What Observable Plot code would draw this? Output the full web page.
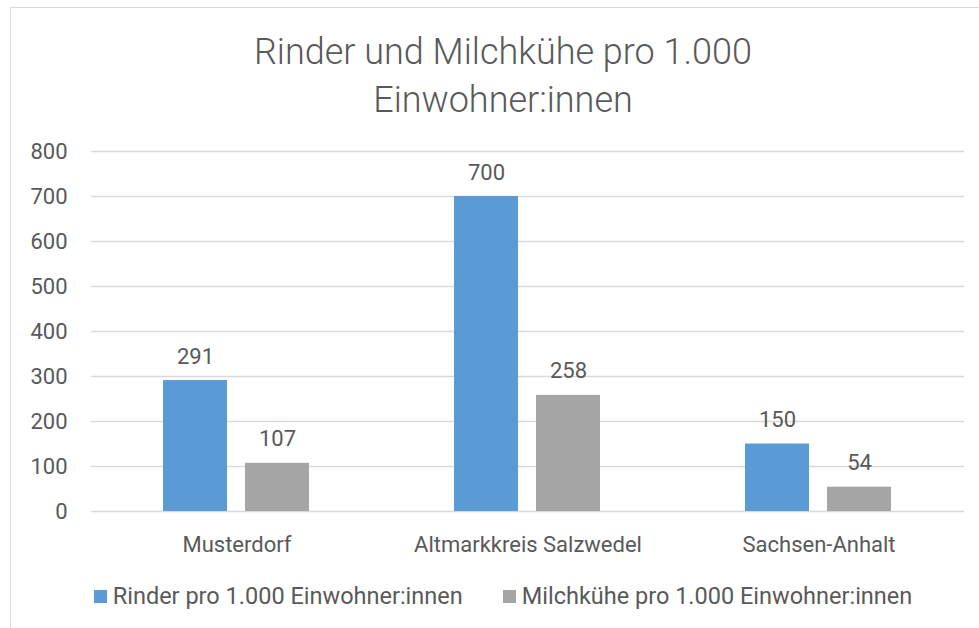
<!DOCTYPE html>
<html>
<head>
<meta charset="utf-8">
<script src="https://cdn.jsdelivr.net/npm/d3@7"></script>
<script src="https://cdn.jsdelivr.net/npm/@observablehq/plot@0.6"></script>
<style>
  html, body { margin: 0; padding: 0; background: #fff; overflow: hidden; }
  body { width: 979px; height: 628px; position: relative; font-family: Roboto, "Noto Sans", sans-serif; color: #595959; }
  #frame { position: absolute; left: 10px; top: 7px; width: 1100px; height: 700px; border: 1.5px solid #D9D9D9; box-sizing: border-box; }
  #title { position: absolute; left: 0; width: 1006px; top: 28px; text-align: center; font-size: 36px; font-weight: 300; line-height: 48px; color: #595959; }
  #chart { position: absolute; left: 0; top: 120px; }
  #legend { position: absolute; left: 0; width: 1006px; top: 584px; display: flex; justify-content: center; gap: 40px; font-size: 23.5px; line-height: 24px; color: #595959; }
  .item { display: flex; align-items: center; }
  .swatch { width: 13px; height: 13px; margin-right: 6px; }
</style>
</head>
<body>
<div id="frame"></div>
<div id="title">Rinder und Milchkühe pro 1.000<br>Einwohner:innen</div>
<div id="chart"></div>
<div id="legend"></div>
<script>
const categories = ["Musterdorf", "Altmarkkreis Salzwedel", "Sachsen-Anhalt"];
const rinder = [291, 700, 150];
const milchkuehe = [107, 258, 54];
const seriesNames = ["Rinder pro 1.000 Einwohner:innen", "Milchkühe pro 1.000 Einwohner:innen"];
const seriesColors = ["#5B9BD5", "#A5A5A5"];
const yTicks = [0, 100, 200, 300, 400, 500, 600, 700, 800];

const data = [];
categories.forEach((c, i) => {
  data.push({category: c, series: seriesNames[0], value: rinder[i]});
  data.push({category: c, series: seriesNames[1], value: milchkuehe[i]});
});

const chart = Plot.plot({
  width: 979,
  height: 450,
  marginTop: 31,
  marginBottom: 59,
  marginLeft: 90,
  marginRight: 14,
  style: {fontFamily: 'Roboto, "Noto Sans", sans-serif', fontSize: "22px", color: "#595959", background: "transparent"},
  fx: {domain: categories, padding: 0, label: null, axis: "bottom", tickSize: 0, tickPadding: 25},
  x: {domain: seriesNames, axis: null, paddingInner: 0.217, paddingOuter: 0.868},
  y: {domain: [0, 800], ticks: yTicks, label: null, tickSize: 0, tickPadding: 24},
  color: {domain: seriesNames, range: seriesColors},
  marks: [
    Plot.ruleY(yTicks, {stroke: "#D9D9D9", strokeWidth: 1.5}),
    Plot.barY(data, {fx: "category", x: "series", y: "value", fill: "series"}),
    Plot.text(data, {fx: "category", x: "series", y: "value", text: d => String(d.value), dy: -24, fontSize: 22, fill: "#595959"})
  ]
});
document.getElementById("chart").appendChild(chart);

const legend = document.getElementById("legend");
seriesNames.forEach((s, i) => {
  const item = document.createElement("div");
  item.className = "item";
  const sw = document.createElement("span");
  sw.className = "swatch";
  sw.style.background = seriesColors[i];
  const t = document.createElement("span");
  t.textContent = s;
  item.appendChild(sw);
  item.appendChild(t);
  legend.appendChild(item);
});
</script>
</body>
</html>
